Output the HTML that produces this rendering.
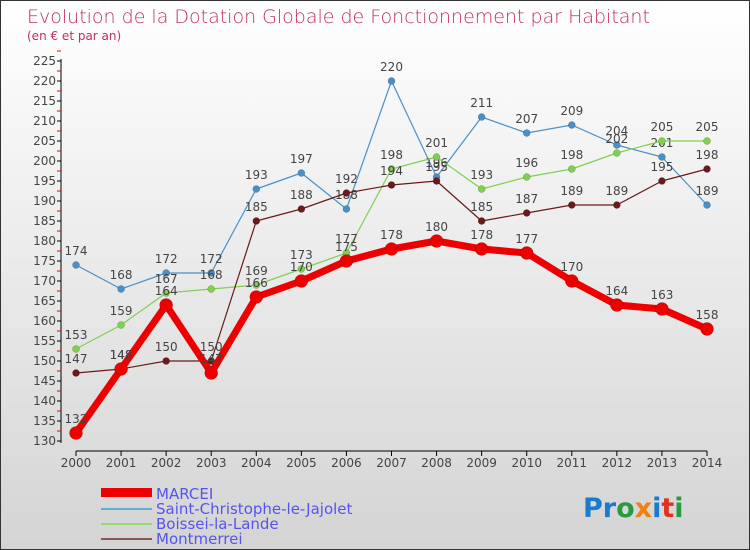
<!DOCTYPE html>
<html><head><meta charset="utf-8"><style>
body{margin:0}
#c{width:748px;height:548px;border:1px solid #333;background:linear-gradient(#fff,#d4d4d4);position:relative;font-family:"DejaVu Sans","Liberation Sans",sans-serif;overflow:hidden}
</style></head><body>
<div id="c">
<svg id="s" width="748" height="548">
<text x="26" y="22" font-size="19" fill="#c0305a" style="font-weight:200">Evolution de la Dotation Globale de Fonctionnement par Habitant</text>
<text x="26" y="39" font-size="12" fill="#c0305a">(en € et par an)</text>
<g id="g"></g>
<g>
<rect x="100" y="487" width="51" height="9" fill="#e00"/>
<text x="155" y="498" font-size="15" fill="#5555ee">MARCEI</text>
<rect x="100" y="507" width="51" height="2" fill="#6aaad0"/>
<text x="155" y="513" font-size="15" fill="#5555ee">Saint-Christophe-le-Jajolet</text>
<rect x="100" y="522" width="51" height="2" fill="#90dc70"/>
<text x="155" y="528" font-size="15" fill="#5555ee">Boissei-la-Lande</text>
<rect x="100" y="537" width="51" height="2" fill="#8a5555"/>
<text x="155" y="543" font-size="15" fill="#5555ee">Montmerrei</text>
</g>
<text x="582" y="516" font-size="27" font-weight="bold"><tspan fill="#1a7ad0">Pr</tspan><tspan fill="#2a9a40">o</tspan><tspan fill="#f08010">x</tspan><tspan fill="#1a7ad0">i</tspan><tspan fill="#e03020">t</tspan><tspan fill="#2a9a40">i</tspan></text>
</svg></div>
<script>
const years=["2000","2001","2002","2003","2004","2005","2006","2007","2008","2009","2010","2011","2012","2013","2014"];
const marcei=[132,148,164,147,166,170,175,178,180,178,177,170,164,163,158];
const saint=[174,168,172,172,193,197,188,220,196,211,207,209,204,201,189];
const boissei=[153,159,167,168,169,173,177,198,201,193,196,198,202,205,205];
const montmerrei=[147,148,150,150,185,188,192,194,195,185,187,189,189,195,198];
const yTicks=[130,135,140,145,150,155,160,165,170,175,180,185,190,195,200,205,210,215,220,225];
const NS="http://www.w3.org/2000/svg";
const g=document.getElementById('g');
const X=i=>75+i*(706-75)/14;
const Y=v=>440-(v-130)*4;
function el(t,a,name){const e=document.createElementNS(NS,t);for(const k in a)e.setAttribute(k,a[k]);


g.appendChild(e);return e;}
el('line',{x1:60,y1:58,x2:60,y2:442,stroke:'#000'},'y-axis');
el('line',{x1:75,y1:450,x2:706,y2:450,stroke:'#000'},'x-axis');
yTicks.forEach(v=>{el('line',{x1:56,y1:Y(v),x2:60,y2:Y(v),stroke:'#000'},'y-tick');
el('line',{x1:56,y1:Y(v+2.5),x2:60,y2:Y(v+2.5),stroke:'#e00'},'y-minor-tick');
const t=el('text',{x:55,y:Y(v)+4,'font-size':12,fill:'#444','text-anchor':'end'},'y-tick-label');t.textContent=v;});
years.forEach((y,i)=>{el('line',{x1:X(i),y1:450,x2:X(i),y2:455,stroke:'#000'},'x-tick');
const t=el('text',{x:X(i),y:466,'font-size':12,fill:'#444','text-anchor':'middle'},'x-tick-label');t.textContent=y;});
function series(d,col,w,r,name){
el('polyline',{points:d.map((v,i)=>X(i)+','+Y(v)).join(' '),fill:'none',stroke:col,'stroke-width':w,'stroke-linejoin':'round'},name+'-line');
d.forEach((v,i)=>{el('circle',{cx:X(i),cy:Y(v),r:r,fill:col,stroke:'rgba(0,0,0,0.3)','stroke-width':0.5},name+'-point');
const t=el('text',{x:X(i),y:Y(v)-10,'font-size':12,fill:'#444','text-anchor':'middle'},name+'-value');t.textContent=v;});}
series(saint,'#4a90c8',1.2,3.5,'saint-christophe');
series(boissei,'#80d050',1.2,3.5,'boissei');
series(montmerrei,'#6a1a1a',1.2,3.5,'montmerrei');
series(marcei,'#ee0000',7,6.5,'marcei');
</script>
</body></html>
